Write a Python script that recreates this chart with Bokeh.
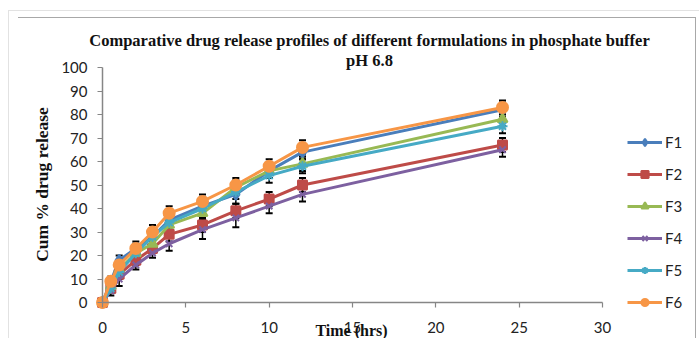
import math
from bokeh.plotting import figure
from bokeh.models import (ColumnDataSource, Whisker, TeeHead, Legend, LegendItem,
                          Label, FixedTicker, Range1d, InlineStyleSheet)
from bokeh.embed import file_html
from bokeh.resources import INLINE

# ---------------- data ----------------
time_hrs = [0, 0.5, 1, 2, 3, 4, 6, 8, 10, 12, 24]
series_names = ["F1", "F2", "F3", "F4", "F5", "F6"]
F1 = [0, 9, 18, 23, 28, 35, 41, 46, 56, 64, 82]
F2 = [0, 6, 12, 18, 23, 29, 33, 39, 44, 50, 67]
F3 = [0, 7, 14, 21, 25, 33, 38, 49, 56, 59, 78]
F4 = [0, 5, 10, 16, 21, 25, 31, 36, 41, 46, 65]
F5 = [0, 6, 13, 21, 28, 34, 40, 47, 54, 58, 75]
F6 = [0, 9, 16, 23, 30, 38, 43, 50, 58, 66, 83]
E1 = [0, 2, 2, 2, 3, 3, 3, 4, 3, 3, 3]
E2 = [0, 2, 2, 2, 2, 3, 3, 3, 3, 3, 3]
E3 = [0, 2, 2, 2, 2, 3, 3, 3, 3, 3, 3]
E4 = [0, 2, 3, 2, 2, 3, 4, 4, 3, 3, 3]
E5 = [0, 2, 2, 2, 2, 3, 3, 3, 3, 3, 3]
E6 = [0, 2, 2, 3, 3, 3, 3, 3, 3, 3, 3]
x_ticks = [0, 5, 10, 15, 20, 25, 30]
y_ticks = [0, 10, 20, 30, 40, 50, 60, 70, 80, 90, 100]
title_lines = ["Comparative drug release profiles of different formulations in phosphate buffer", "pH 6.8"]
x_label = "Time (hrs)"
y_label = "Cum % drug release"

values = [F1, F2, F3, F4, F5, F6]
errors = [E1, E2, E3, E4, E5, E6]
colors = ["#4A7EBB", "#BE4B48", "#98B954", "#7D60A0", "#46AAC5", "#F79646"]
markers = ["diamond", "square", "triangle", "x", "asterisk", "circle"]
msizes = [11, 9, 10, 9, 10, 11]

# ---------------- layout geometry (page pixels) ----------------
W, H = 699, 338
AX_L, AX_B = 102, 302          # pixel position of x=0 and y=0
PX_PER_X = 500 / 30            # 0..30 h spans 500 px
PX_PER_Y = 235 / 100           # 0..100 % spans 235 px


def dx(px):
    return (px - AX_L) / PX_PER_X


def dy(py):
    return (AX_B - py) / PX_PER_Y


frame_css = InlineStyleSheet(css="""
:host { position: relative; }
:host::before { content: ''; position: absolute; left: 8px; top: 10px; width: 700px; height: 400px;
  border-left: 1px solid #e2e2e2; border-top: 1px solid #e2e2e2; pointer-events: none; z-index: 10; }
:host::after { content: ''; position: absolute; left: 18px; top: 17px; width: 677px; height: 400px;
  border-top: 1px solid #a8a8a8; border-right: 1px solid #a8a8a8; pointer-events: none; z-index: 10; }
""")

# the frame covers the whole canvas; the axes are pinned at x=0 / y=0
p = figure(width=W, height=H, output_backend="svg", toolbar_location=None,
           x_range=Range1d(dx(0), dx(W)), y_range=Range1d(dy(H), dy(0)),
           min_border=0, stylesheets=[frame_css])
p.outline_line_color = None
p.xgrid.visible = False
p.ygrid.visible = False
p.background_fill_color = "white"
p.border_fill_color = "white"

axis_color = "#868686"
for ax in (p.xaxis[0], p.yaxis[0]):
    ax.fixed_location = 0
    ax.axis_line_color = axis_color
    ax.axis_line_width = 1.5
    ax.major_tick_line_color = axis_color
    ax.major_tick_line_width = 1.2
    ax.minor_tick_line_color = None
    ax.major_tick_in = 0
    ax.major_tick_out = 5
    ax.major_label_text_font = "Lato"
    ax.major_label_text_font_size = "15px"
    ax.major_label_text_color = "#222222"

p.xaxis[0].ticker = FixedTicker(ticks=x_ticks)
p.yaxis[0].ticker = FixedTicker(ticks=y_ticks)
p.xaxis[0].bounds = (x_ticks[0], x_ticks[-1])
p.yaxis[0].bounds = (y_ticks[0], y_ticks[-1])
p.xaxis[0].major_label_standoff = 14
p.yaxis[0].major_label_standoff = 10

items = []
for name, v, e, c, m, s in zip(series_names, values, errors, colors, markers, msizes):
    src = ColumnDataSource(dict(x=time_hrs, y=v,
                                lo=[a - b for a, b in zip(v, e)],
                                hi=[a + b for a, b in zip(v, e)]))
    w = Whisker(source=src, base="x", upper="hi", lower="lo",
                line_color="black", line_width=1.5,
                upper_head=TeeHead(size=7, line_color="black", line_width=2),
                lower_head=TeeHead(size=7, line_color="black", line_width=2))
    p.add_layout(w)
    ln = p.line("x", "y", source=src, color=c, line_width=3)
    sc = p.scatter("x", "y", source=src, marker=m, size=s, color=c,
                   line_color=c, line_width=2)
    items.append(LegendItem(label=name, renderers=[ln, sc]))

legend = Legend(items=items, location=(627, H - 311), padding=0, margin=0,
                spacing=14, glyph_width=35, glyph_height=18, label_height=18,
                label_standoff=3, label_text_font="Lato",
                label_text_font_size="15px", label_text_color="#222222",
                label_text_baseline="middle",
                border_line_color=None, background_fill_alpha=0)
p.add_layout(legend)

serif = dict(text_font="Liberation Serif", text_font_style="bold", text_color="#111111")
for txt, py in zip(title_lines, [40, 60]):
    p.add_layout(Label(x=dx(369), y=dy(py), text=txt, text_align="center",
                       text_baseline="middle", text_font_size="16.5px", **serif))
p.add_layout(Label(x=dx(351), y=dy(330), text=x_label, text_align="center",
                   text_baseline="middle", text_font_size="16px", **serif))
p.add_layout(Label(x=dx(41), y=dy(184), text=y_label, text_align="center",
                   text_baseline="middle", angle=math.pi / 2,
                   text_font_size="17.5px", **serif))

open("out.html", "w").write(file_html(p, INLINE))
